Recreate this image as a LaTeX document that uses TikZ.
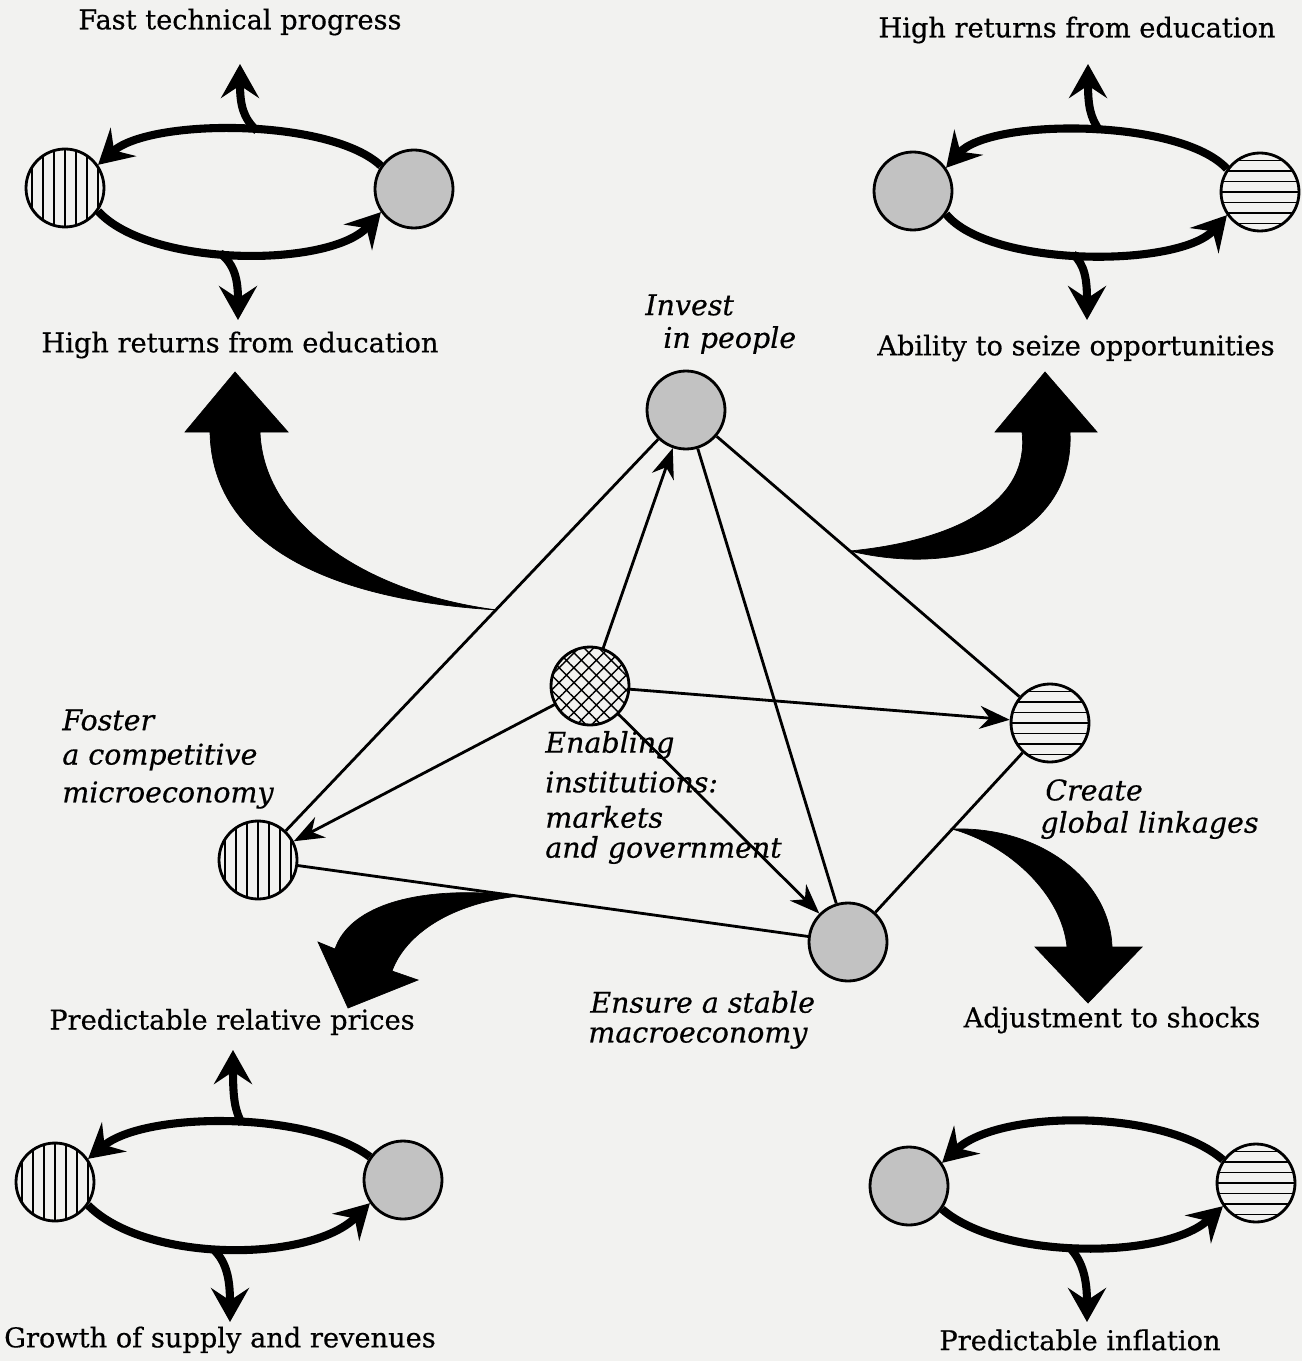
\documentclass[tikz,border=0pt]{standalone}
\usepackage{fontspec}
\setmainfont{DejaVu Serif}
\newfontfamily\heavyserif{DejaVu Serif}[FakeBold=0.5]
\usetikzlibrary{arrows.meta,patterns.meta}
\definecolor{bg}{RGB}{242,242,240}
\newcommand\uprfont{\heavyserif\fontsize{15.5pt}{18pt}\selectfont}
\newcommand\itlfont{\heavyserif\fontsize{16.2pt}{19pt}\selectfont\itshape}
\tikzset{
  ball/.style={circle,draw=black,line width=1.6pt,minimum size=1.56cm,inner sep=0pt},
  vball/.style={ball,path picture={
      \foreach \i in {-3,...,3}
        \draw[line width=0.9pt] ([xshift=\i*0.22cm,yshift=-1cm]path picture bounding box.center) -- ++(0,-100);}},
  hball/.style={ball,path picture={
      \foreach \i in {-3,...,3}
        \draw[line width=0.9pt] ([yshift=\i*0.21cm,xshift=-1cm]path picture bounding box.center) -- ++(100,0);}},
  dball/.style={ball,fill=gray!48},
  xball/.style={ball,pattern={Hatch[angle=45,distance=6pt,line width=0.8pt]}},
  link/.style={line width=1.6pt},
  linkarr/.style={link,-{Stealth[length=0.6cm,width=0.46cm]}},
  looparc/.style={line width=4.6pt},
  looparr/.style={looparc,-{Stealth[length=0.68cm,width=0.76cm,inset=0.25cm]}},
  bigarrow/.style={fill=black},
  lab/.style={font=\uprfont,inner sep=0pt,anchor=center},
  itl/.style={font=\itlfont,inner sep=0pt,anchor=west},
}
\begin{document}
\begin{tikzpicture}[x=0.02cm,y=-0.02cm]
\useasboundingbox[fill=bg] (0,0) rectangle (1302,1361);

% ---------- main diagram nodes ----------
\node[dball] (people) at (686,410) {};
\node[xball] (enab) at (590,686) {};
\node[hball] (create) at (1050,723) {};
\node[vball] (foster) at (258,860) {};
\node[dball] (macro) at (848,942) {};

% ---------- main connectors ----------
\draw[link] (people) -- (create);
\draw[link] (people) -- (macro);
\draw[link] (people) -- (foster);
\draw[link] (create) -- (macro);
\draw[link] (foster) -- (macro);
\draw[linkarr] (enab) -- (people);
\draw[linkarr] (enab) -- (create);
\draw[linkarr] (enab) -- (foster);
\draw[linkarr] (enab) -- (macro);

% ---------- big curved arrows ----------
\draw[bigarrow] (497,610) .. controls (330,600) and (212,545) .. (210,432)
  -- (185,432) -- (235,372) -- (288,432) -- (260,432)
  .. controls (263,520) and (360,592) .. (497,610) -- cycle;
\draw[bigarrow] (850,551) .. controls (960,540) and (1030,500) .. (1022,432)
  -- (995,432) -- (1045,372) -- (1097,432) -- (1070,432)
  .. controls (1075,530) and (970,580) .. (850,551) -- cycle;
\draw[bigarrow] (952,829) .. controls (1040,826) and (1110,880) .. (1112,947)
  -- (1142,947) -- (1088,1003) -- (1035,947) -- (1067,947)
  .. controls (1062,895) and (1010,845) .. (952,829) -- cycle;
\draw[bigarrow] (520,896) .. controls (420,884) and (350,905) .. (335,949)
  -- (318,942) -- (348,1008) -- (418,980) -- (392,971)
  .. controls (405,935) and (450,903) .. (520,896) -- cycle;

% ---------- main labels ----------
\node[itl] (tInvest) at (645,305) {Invest};
\node[itl] (tPeople) at (663,340) {in people};
\node[itl] (tFoster1) at (62,720) {Foster};
\node[itl] (tFoster2) at (62,757) {a competitive};
\node[itl] (tFoster3) at (62,795) {microeconomy};
\node[itl] (tEnab1) at (545,745) {Enabling};
\node[itl] (tEnab2) at (545,782) {institutions:};
\node[itl] (tEnab3) at (545,817) {markets};
\node[itl] (tEnab4) at (545,850) {and government};
\node[itl] (tCreate1) at (1045,790) {Create};
\node[itl] (tCreate2) at (1040,825) {global linkages};
\node[itl] (tMacro1) at (590,1002) {Ensure a stable};
\node[itl] (tMacro2) at (588,1038) {macroeconomy};

% ---------- outer labels ----------
\node[lab] (fast) at (240,22) {Fast technical progress};
\node[lab] (hreR) at (1077,30) {High returns from education};
\node[lab] (hreL) at (240,345) {High returns from education};
\node[lab] (abil) at (1076,348) {Ability to seize opportunities};
\node[lab] (prp) at (232,1022) {Predictable relative prices};
\node[lab] (adj) at (1112,1020) {Adjustment to shocks};
\node[lab] (grow) at (220,1340) {Growth of supply and revenues};
\node[lab] (pinf) at (1080,1340) {Predictable inflation};

% ---------- top-left loop ----------
\node[vball] (tlA) at (65,188) {};
\node[dball] (tlB) at (414,189) {};
\coordinate (tlUp) at (240,64);
\coordinate (tlDn) at (238,320);
\draw[looparr] (tlB.145) .. controls (330,118) and (150,118) .. (tlA.35);
\draw[looparr] (tlA.-35) .. controls (150,268) and (330,268) .. (tlB.-145);
\draw[looparr] (257,131) .. controls (243,118) and (240,105) .. (tlUp);
\draw[looparr] (220,253) .. controls (235,265) and (238,280) .. (tlDn);

% ---------- top-right loop ----------
\node[dball] (trA) at (913,191) {};
\node[hball] (trB) at (1260,192) {};
\coordinate (trUp) at (1088,64);
\coordinate (trDn) at (1087,320);
\draw[looparr] (trB.145) .. controls (1180,118) and (990,118) .. (trA.35);
\draw[looparr] (trA.-35) .. controls (990,268) and (1180,268) .. (trB.-145);
\draw[looparr] (1100,131) .. controls (1090,118) and (1088,105) .. (trUp);
\draw[looparr] (1073,254) .. controls (1085,265) and (1087,280) .. (trDn);

% ---------- bottom-left loop ----------
\node[vball] (blA) at (55,1182) {};
\node[dball] (blB) at (403,1180) {};
\coordinate (blUp) at (233,1050);
\coordinate (blDn) at (230,1322);
\draw[looparr] (blB.145) .. controls (310,1111) and (145,1111) .. (blA.35);
\draw[looparr] (blA.-35) .. controls (145,1263) and (310,1263) .. (blB.-145);
\draw[looparr] (242,1124) .. controls (235,1110) and (233,1100) .. (blUp);
\draw[looparr] (213,1249) .. controls (227,1262) and (230,1280) .. (blDn);

% ---------- bottom-right loop ----------
\node[dball] (brA) at (909,1186) {};
\node[hball] (brB) at (1256,1183) {};
\coordinate (brDn) at (1087,1322);
\draw[looparr] (brB.145) .. controls (1165,1109) and (1000,1109) .. (brA.35);
\draw[looparr] (brA.-35) .. controls (1000,1260) and (1165,1260) .. (brB.-145);
\draw[looparr] (1070,1248) .. controls (1083,1262) and (1087,1280) .. (brDn);
\end{tikzpicture}
\end{document}
